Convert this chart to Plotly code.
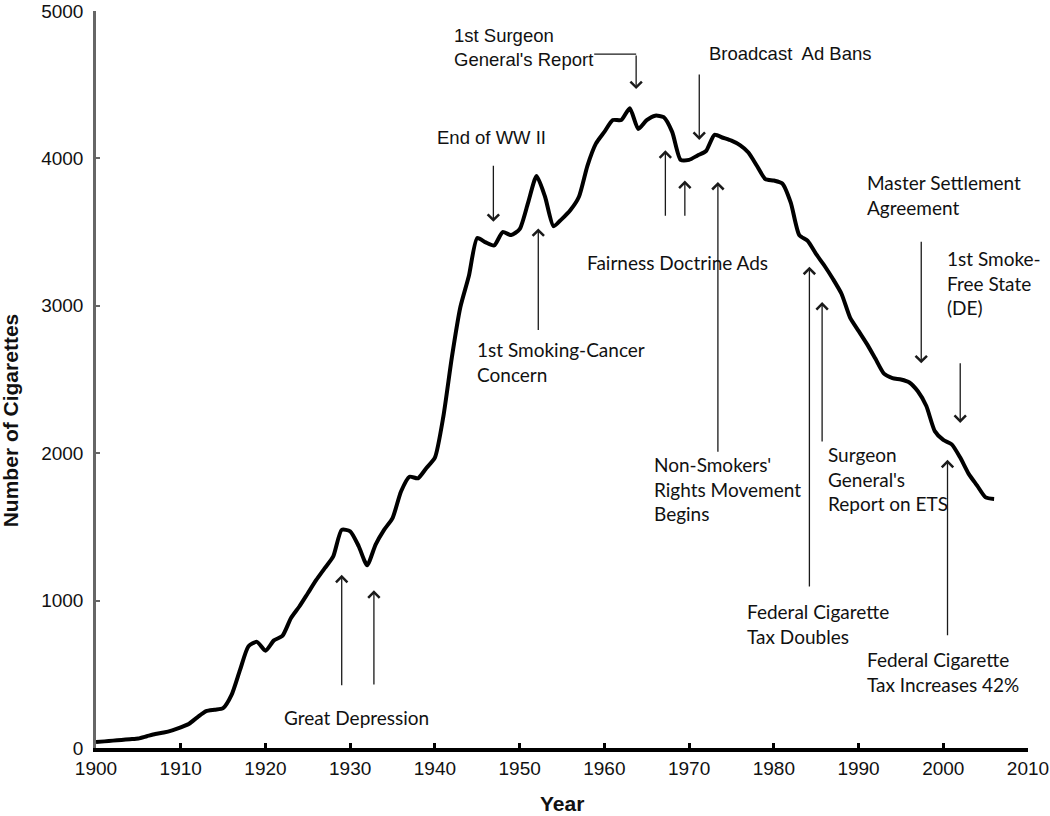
import plotly.graph_objects as go

# adult per-capita cigarette consumption
years = list(range(1900, 2007))
cigarettes = [
    40, 45, 50, 55, 60, 65, 80, 95, 105, 120,            # 1900-1909
    140, 165, 210, 250, 260, 270, 360, 530, 690, 720,    # 1910-1919
    660, 730, 760, 880, 960, 1050, 1140, 1220, 1300, 1480,  # 1920-1929
    1470, 1370, 1240, 1380, 1480, 1560, 1740, 1840, 1830, 1900,  # 1930-1939
    1970, 2250, 2650, 2990, 3200, 3460, 3430, 3410, 3500, 3480,  # 1940-1949
    3520, 3700, 3880, 3740, 3540, 3590, 3650, 3740, 3950, 4100,  # 1950-1959
    4180, 4260, 4260, 4340, 4200, 4260, 4290, 4280, 4180, 3990,  # 1960-1969
    3990, 4020, 4050, 4160, 4140, 4120, 4090, 4040, 3950, 3860,  # 1970-1979
    3850, 3830, 3700, 3480, 3440, 3350, 3270, 3180, 3080, 2920,  # 1980-1989
    2830, 2740, 2640, 2540, 2510, 2500, 2480, 2420, 2320, 2150,  # 1990-1999
    2090, 2060, 1970, 1860, 1780, 1700, 1690,                    # 2000-2006
]

x_ticks = list(range(1900, 2011, 10))
y_ticks = [0, 1000, 2000, 3000, 4000, 5000]

# event arrows: year, tail value, head value
arrow_years = [1929.0, 1932.8, 1946.9, 1952.2, 1963.75, 1971.2, 1967.2, 1969.5,
               1973.4, 1984.2, 1985.7, 1997.4, 2002.0, 2000.5]
arrow_tails = [415, 420, 3960, 2825, 4708, 4580, 3600, 3600,
               2000, 1085, 2070, 3445, 2620, 755]
arrow_heads = [1175, 1070, 3570, 3525, 4470, 4125, 4055, 3850,
               3840, 3265, 3025, 2610, 2205, 1955]

# event labels: text, year, value, anchor, font
label_texts = [
    "Great Depression",
    "End of WW II",
    "1st Smoking-Cancer<br>Concern",
    "1st Surgeon<br>General's Report",
    "Broadcast  Ad Bans",
    "Fairness Doctrine Ads",
    "Non-Smokers'<br>Rights Movement<br>Begins",
    "Federal Cigarette<br>Tax Doubles",
    "Surgeon<br>General's<br>Report on ETS",
    "Master Settlement<br>Agreement",
    "1st Smoke-<br>Free State<br>(DE)",
    "Federal Cigarette<br>Tax Increases 42%",
]
label_years = [1930.8, 1946.7, 1944.7, 1942.0, 1972.1, 1968.6,
               1965.6, 1976.6, 1986.2, 1990.8, 2000.2, 1990.8]
label_values = [204, 4145, 2619, 4752, 4715, 3297,
                1757, 838, 1828, 3752, 3155, 519]
label_anchor = ["center", "center", "left", "left", "left", "center",
                "left", "left", "left", "left", "left", "left"]
label_arial = [False, True, False, True, True, False,
               False, False, False, False, False, False]

# elbow connector of the 1st Surgeon General's Report label
sg_line_x = [1958.8, 1963.75]
sg_line_y = 4708

CALIBRI_LIKE = "Lato, 'Open Sans', sans-serif"
ARIAL_LIKE = "'Liberation Sans', Arial, sans-serif"

fig = go.Figure()
fig.add_trace(
    go.Scatter(
        x=years,
        y=cigarettes,
        mode="lines",
        line=dict(color="black", width=4, shape="spline", smoothing=0.6),
        hoverinfo="x+y",
        showlegend=False,
    )
)

annotations = []
for yr, tail, head in zip(arrow_years, arrow_tails, arrow_heads):
    annotations.append(
        dict(
            x=yr, y=head, ax=yr, ay=tail,
            xref="x", yref="y", axref="x", ayref="y",
            text="", showarrow=True,
            arrowhead=4, arrowsize=1.7, arrowwidth=1.3, arrowcolor="#1a1a1a",
            standoff=0, startstandoff=0,
        )
    )

for txt, yr, val, anc, arial in zip(label_texts, label_years, label_values, label_anchor, label_arial):
    annotations.append(
        dict(
            x=yr, y=val, xref="x", yref="y",
            text=txt, showarrow=False,
            xanchor=anc, yanchor="middle", align="left",
            font=dict(
                family=ARIAL_LIKE if arial else CALIBRI_LIKE,
                size=18.5 if arial else 19,
                color="#111111",
            ),
        )
    )

# axis titles placed by hand, like the reference
annotations.append(
    dict(
        x=0.5, y=-0.075, xref="paper", yref="paper",
        text="<b>Year</b>", showarrow=False,
        xanchor="center", yanchor="middle",
        font=dict(family=ARIAL_LIKE, size=21, color="#111111"),
    )
)
annotations.append(
    dict(
        x=-0.092, y=0.445, xref="paper", yref="paper",
        text="<b>Number of Cigarettes</b>", showarrow=False, textangle=-90,
        xanchor="center", yanchor="middle",
        font=dict(family=ARIAL_LIKE, size=21, color="#111111"),
    )
)

fig.add_shape(
    type="line", xref="x", yref="y",
    x0=sg_line_x[0], x1=sg_line_x[1], y0=sg_line_y, y1=sg_line_y,
    line=dict(color="#1a1a1a", width=1.3),
)

fig.update_layout(
    width=1050,
    height=816,
    paper_bgcolor="white",
    plot_bgcolor="white",
    margin=dict(l=96, r=22, t=11, b=68, autoexpand=False),
    font=dict(family=ARIAL_LIKE, size=19, color="#111111"),
    annotations=annotations,
    xaxis=dict(
        range=[1900, 2010],
        tickvals=x_ticks,
        ticks="inside", ticklen=5, tickwidth=2.5, tickcolor="black",
        showline=True, linecolor="black", linewidth=3.5,
        showgrid=False, zeroline=False, automargin=False,
        tickfont=dict(family=ARIAL_LIKE, size=19),
        ticklabelstandoff=0,
    ),
    yaxis=dict(
        range=[0, 5000],
        tickvals=y_ticks,
        ticks="inside", ticklen=4, tickwidth=2, tickcolor="#666666",
        showline=True, linecolor="#666666", linewidth=2.5,
        showgrid=False, zeroline=False, automargin=False,
        tickfont=dict(family=ARIAL_LIKE, size=19),
        ticklabelstandoff=6,
    ),
)

# drop the default page margin so the figure fills the window
fig.write_html(
    "out.html",
    config={"displayModeBar": False},
    post_script="document.body.style.margin='0';",
)
